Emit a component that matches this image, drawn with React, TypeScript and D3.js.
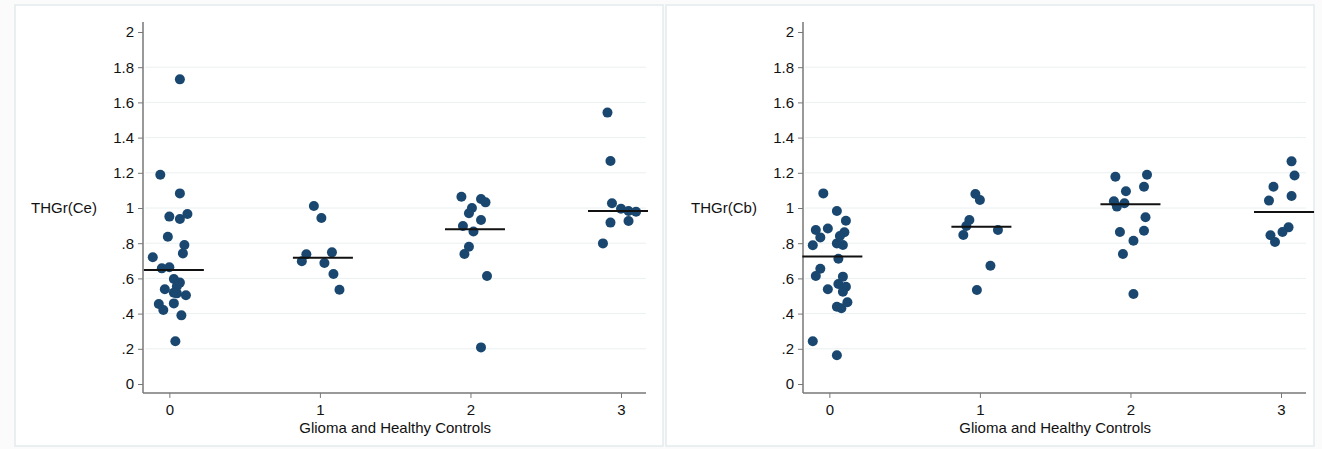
import * as d3 from "d3";
import {useEffect, useRef} from "react";

// category codes on the x axis
const categories = [0, 1, 2, 3];
const yTicks = [0, 0.2, 0.4, 0.6, 0.8, 1, 1.2, 1.4, 1.6, 1.8, 2];
const yTickLabels = ["0", ".2", ".4", ".6", ".8", "1", "1.2", "1.4", "1.6", "1.8", "2"];

// THGr(Ce) values per group, jitter is in category units
const ceValues = [
    [1.731, 1.189, 1.083, 0.951, 0.937, 0.966, 0.837, 0.79, 0.742, 0.72, 0.657, 0.663, 0.597, 0.576, 0.555, 0.538, 0.519, 0.515, 0.504, 0.455, 0.42, 0.458, 0.39, 0.243],
    [1.011, 0.943, 0.737, 0.697, 0.748, 0.688, 0.625, 0.536],
    [1.064, 1.051, 1.032, 1.0, 0.97, 0.932, 0.898, 0.866, 0.78, 0.739, 0.614, 0.208],
    [1.542, 1.267, 1.027, 0.996, 0.983, 0.979, 0.917, 0.926, 0.799]
];
const ceJitter = [
    [0.07, -0.06, 0.07, 0, 0.07, 0.12, -0.01, 0.1, 0.09, -0.11, -0.05, 0, 0.03, 0.07, 0.05, -0.03, 0.03, 0.05, 0.11, -0.07, -0.04, 0.03, 0.08, 0.04],
    [-0.04, 0.01, -0.09, -0.12, 0.08, 0.03, 0.09, 0.13],
    [-0.06, 0.07, 0.1, 0.01, -0.01, 0.07, -0.05, 0.02, -0.01, -0.04, 0.11, 0.07],
    [-0.09, -0.07, -0.06, 0, 0.05, 0.1, -0.07, 0.05, -0.12]
];
const ceMedians = [0.648, 0.718, 0.879, 0.983];
const ceMedianShift = [0.03, 0.02, 0.03, -0.02];

// THGr(Cb) values per group
const cbValues = [
    [1.083, 0.983, 0.928, 0.875, 0.884, 0.833, 0.862, 0.841, 0.799, 0.79, 0.788, 0.712, 0.655, 0.614, 0.61, 0.568, 0.553, 0.538, 0.524, 0.439, 0.43, 0.464, 0.243, 0.163],
    [1.08, 1.045, 0.932, 0.898, 0.847, 0.875, 0.672, 0.534],
    [1.178, 1.189, 1.121, 1.095, 1.038, 1.008, 1.027, 0.947, 0.871, 0.864, 0.814, 0.739, 0.511],
    [1.265, 1.185, 1.121, 1.042, 1.068, 0.89, 0.864, 0.845, 0.807]
];
const cbJitter = [
    [-0.04, 0.05, 0.11, -0.09, -0.01, -0.06, 0.1, 0.07, 0.05, 0.09, -0.11, 0.06, -0.06, -0.09, 0.09, 0.06, 0.11, -0.01, 0.09, 0.05, 0.08, 0.12, -0.11, 0.05],
    [-0.03, 0, -0.07, -0.09, -0.11, 0.12, 0.07, -0.02],
    [-0.1, 0.11, 0.09, -0.03, -0.11, -0.09, -0.04, 0.1, 0.09, -0.07, 0.02, -0.05, 0.02],
    [0.07, 0.09, -0.05, -0.08, 0.07, 0.05, 0.01, -0.07, -0.04]
];
const cbMedians = [0.725, 0.894, 1.021, 0.977];
const cbMedianShift = [0.02, 0.01, 0, 0.02];

const panels = [
    {title: "THGr(Ce)", values: ceValues, jitter: ceJitter, medians: ceMedians, shift: ceMedianShift},
    {title: "THGr(Cb)", values: cbValues, jitter: cbJitter, medians: cbMedians, shift: cbMedianShift}
];

const xTitle = "Glioma and Healthy Controls";

const W = 1322;
const H = 449;
const FONT = "'Liberation Sans', Arial, sans-serif";
const NAVY = "#1a476f";

const App = () => {
    const ref = useRef(null);

    useEffect(() => {
        const svg = d3.select(ref.current);
        svg.selectAll("*").remove();

        const x = d3.scaleLinear().domain([-0.175, 3.166]).range([143, 646]);
        const y = d3.scaleLinear().domain([0, 2]).range([384, 32]);
        const halfW = 30;

        panels.forEach((p, pi) => {
            const g = svg.append("g").attr("transform", `translate(${pi * 660},0)`);

            // panel frame
            g.append("rect")
                .attr("x", 15 - pi * 9).attr("y", 5)
                .attr("width", 648).attr("height", 441)
                .attr("fill", "#fff")
                .attr("stroke", "#e4ecee")
                .attr("stroke-width", 1.5);

            // grid
            g.selectAll(".grid")
                .data(yTicks.filter(t => t > 0 && t < 2))
                .enter()
                .append("line")
                .attr("x1", x.range()[0] + 2).attr("x2", x.range()[1])
                .attr("y1", d => y(d)).attr("y2", d => y(d))
                .attr("stroke", "#eaf0f1")
                .attr("stroke-width", 1);

            // y axis
            const yAxis = d3.axisLeft(y)
                .tickValues(yTicks)
                .tickFormat((d, i) => yTickLabels[i])
                .tickSize(5)
                .tickPadding(4);
            const ya = g.append("g").attr("transform", `translate(${x.range()[0]},0)`).call(yAxis);
            ya.select(".domain").remove();
            ya.append("line")
                .attr("x1", 0).attr("x2", 0)
                .attr("y1", y(2.057)).attr("y2", y(-0.051))
                .attr("stroke", "#777").attr("stroke-width", 1.5);
            ya.selectAll(".tick line").attr("stroke", "#777");
            ya.selectAll(".tick text")
                .attr("fill", "#111")
                .style("font-family", FONT)
                .style("font-size", "15px");

            // x axis
            const xAxis = d3.axisBottom(x)
                .tickValues(categories)
                .tickFormat(d3.format("d"))
                .tickSize(5)
                .tickPadding(6);
            const xa = g.append("g").attr("transform", `translate(0,${y(-0.051)})`).call(xAxis);
            xa.select(".domain").remove();
            xa.append("line")
                .attr("x1", x.range()[0]).attr("x2", x.range()[1])
                .attr("y1", 0).attr("y2", 0)
                .attr("stroke", "#777").attr("stroke-width", 1.5);
            xa.selectAll(".tick line").attr("stroke", "#777");
            xa.selectAll(".tick text")
                .attr("fill", "#111")
                .style("font-family", FONT)
                .style("font-size", "15px");

            // titles
            g.append("text")
                .attr("x", 64).attr("y", y(1))
                .attr("dy", "0.35em")
                .attr("text-anchor", "middle")
                .style("font-family", FONT)
                .style("font-size", "15px")
                .attr("fill", "#111")
                .text(p.title);
            g.append("text")
                .attr("x", x(1.5)).attr("y", 433)
                .attr("text-anchor", "middle")
                .style("font-family", FONT)
                .style("font-size", "15px")
                .attr("fill", "#111")
                .text(xTitle);

            // points
            const pts = [];
            p.values.forEach((vals, gi) => {
                vals.forEach((v, j) => pts.push({c: categories[gi] + p.jitter[gi][j], v}));
            });
            g.selectAll("circle")
                .data(pts)
                .enter()
                .append("circle")
                .attr("cx", d => x(d.c))
                .attr("cy", d => y(d.v))
                .attr("r", 5)
                .attr("fill", NAVY);

            // median lines
            g.selectAll(".median")
                .data(p.medians)
                .enter()
                .append("line")
                .attr("x1", (d, i) => x(categories[i] + p.shift[i]) - halfW)
                .attr("x2", (d, i) => x(categories[i] + p.shift[i]) + halfW)
                .attr("y1", d => y(d)).attr("y2", d => y(d))
                .attr("stroke", "#111")
                .attr("stroke-width", 2);
        });
    }, []);

    return (
        <div style={{position: "absolute", left: 0, top: 0}}>
            <svg ref={ref} width={W} height={H} style={{display: "block", background: "#fbfbfb"}}></svg>
        </div>
    );
}

export default App;
